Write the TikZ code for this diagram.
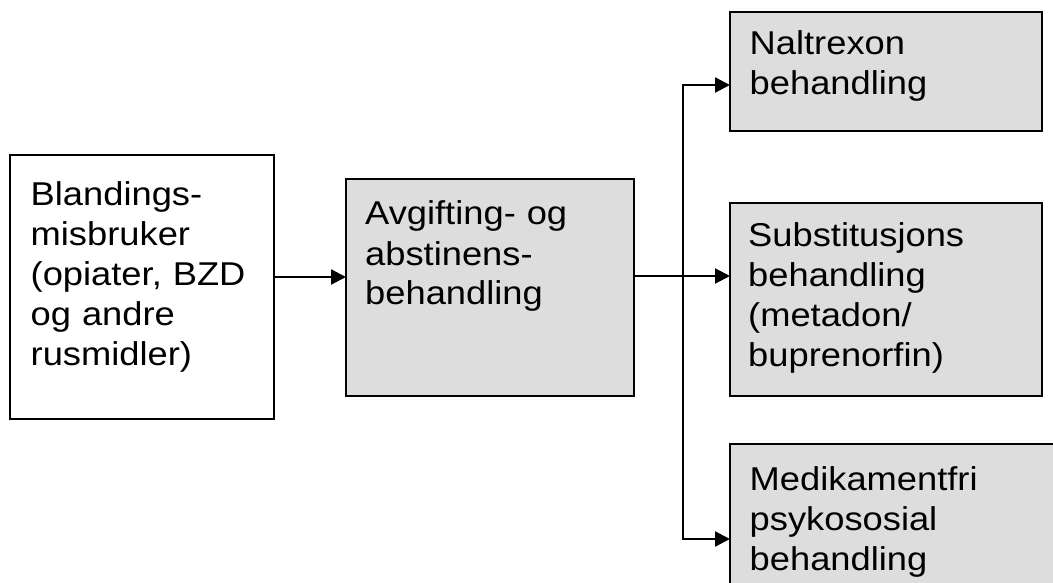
\documentclass[tikz,border=0pt]{standalone}
\usepackage{fontspec}
\newfontfamily\boxfont{Liberation Sans}[FakeStretch=1.1]
\usetikzlibrary{arrows.meta,calc}
\definecolor{boxgray}{HTML}{DDDDDD}
\begin{document}
\begin{tikzpicture}[x=1pt,y=-1pt,
  box/.style={draw=black, line width=2.2pt, anchor=north west, inner sep=0pt, outer sep=0pt},
  greybox/.style={box, fill=boxgray},
  txt/.style={anchor=base west, inner sep=0pt, text width=300pt, align=left,
    font=\boxfont\fontsize{33}{40}\selectfont},
  conn/.style={line width=2.2pt},
  arr/.style={conn, -{Triangle[length=15pt,width=15pt]}}]
\useasboundingbox (0,0) rectangle (1053,583);
\clip (0,0) rectangle (1053,583);
\fill[white] (0,0) rectangle (1053,583);
% boxes
\node[box, minimum width=264pt, minimum height=264pt] (b1) at (10,155) {};
\node[greybox, minimum width=288pt, minimum height=217pt] (b2) at (346,179) {};
\node[greybox, minimum width=312pt, minimum height=119pt] (b3) at (730,12) {};
\node[greybox, minimum width=312pt, minimum height=193pt] (b4) at (730,203) {};
\node[greybox, minimum width=400pt, minimum height=200pt] (b5) at (730,444) {};
% texts
\node[txt] (t1) at ($(b1.north west)+(20.5,50.7)$) {Blandings-\\misbruker\\(opiater, BZD\\og andre\\rusmidler)};
\node[txt] (t2) at ($(b2.north west)+(19,46)$) {Avgifting- og\\abstinens-\\behandling};
\node[txt] (t3) at ($(b3.north west)+(19.5,43)$) {Naltrexon\\behandling};
\node[txt] (t4) at ($(b4.north west)+(18,43.7)$) {Substitusjons\\behandling\\(metadon/\\buprenorfin)};
\node[txt] (t5) at ($(b5.north west)+(19.5,46)$) {Medikamentfri\\psykososial\\behandling};
% connectors
\coordinate (a1) at ([yshift=10pt]b1.east);
\draw[arr] (a1) -- (a1 -| b2.west);
\coordinate (m) at ([yshift=11.5pt]b2.east);
\coordinate (j) at ($(m)+(49,0)$);
\coordinate (jt) at ($(j)+(0,-191)$);
\coordinate (jb) at ($(j)+(0,263)$);
\draw[conn] (m) -- (j);
\draw[conn] (jt) -- (jb);
\draw[arr] (j) -- (j -| b4.west);
\draw[arr] ([xshift=-1.1pt]jt) -- (jt -| b3.west);
\draw[arr] ([xshift=-1.1pt]jb) -- (jb -| b5.west);
\end{tikzpicture}
\end{document}
